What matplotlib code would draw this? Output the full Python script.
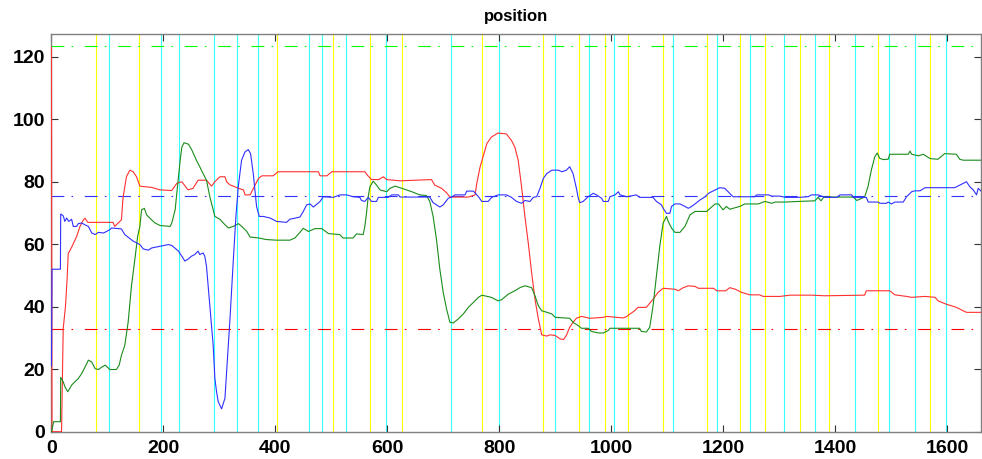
import matplotlib
matplotlib.use("Agg")
import matplotlib.pyplot as plt

# ── data ────────────────────────────────────────────────────────────────────
red_x = [0, 1, 18, 21, 25, 28, 30, 36, 45, 51, 57, 60, 65, 110, 113, 125, 128, 134, 140, 146,
         152, 158, 167, 179, 194, 215, 224, 233, 244, 253, 262, 277, 286, 292, 301, 310, 313,
         319, 325, 334, 343, 346, 355, 361, 370, 376, 396, 405, 477, 480, 492, 501, 560, 566,
         572, 585, 593, 599, 623, 679, 685, 697, 706, 712, 745, 757, 760, 766, 772, 778, 786,
         798, 813, 822, 828, 834, 840, 846, 852, 858, 864, 870, 876, 885, 891, 900, 909, 915,
         920, 926, 932, 938, 947, 962, 986, 992, 1022, 1028, 1034, 1042, 1048, 1063, 1075,
         1084, 1093, 1114, 1120, 1129, 1138, 1150, 1156, 1183, 1189, 1205, 1212, 1222, 1233,
         1248, 1265, 1272, 1302, 1320, 1358, 1382, 1453, 1456, 1498, 1507, 1528, 1537, 1561,
         1579, 1584, 1599, 1608, 1617, 1629, 1635, 1662]
red_y = [123, 0, 0, 33, 40, 49, 57, 59, 62.5, 65.7, 67.8, 68.3, 67, 67, 65.7, 67.8, 75, 81.6,
         83.7, 83.2, 81.6, 78.6, 78.4, 78.2, 77.4, 77.2, 79.5, 80, 77.4, 77.9, 80.5, 80.5, 78.6,
         80, 81.6, 81.6, 80, 79, 78.6, 77.9, 77.4, 75.8, 75.8, 77.9, 81.1, 81.9, 81.9, 83.2,
         83.2, 81.9, 81.9, 83.2, 83.2, 81.8, 80.7, 80.7, 81.6, 80.7, 80.3, 80.7, 78.9, 77.9,
         76.5, 75.1, 75.1, 75.8, 79.5, 84.8, 88.5, 92.2, 94.3, 95.6, 95.3, 93.2, 91.1, 86.9,
         78.4, 68.9, 60.4, 50.9, 42.4, 36.1, 31, 30.6, 31, 30.8, 29.7, 29.5, 30.8, 33.4, 35,
         36.3, 36.9, 36.3, 36.6, 36.9, 36.4, 36.9, 37.7, 38.7, 39.8, 39.8, 42.4, 44.6, 45.9,
         45.6, 45.1, 46.1, 46.7, 46.5, 45.9, 45.9, 45.1, 45.1, 46.1, 45.6, 44.6, 43.8, 43.8,
         43.3, 43.3, 43.7, 43.7, 43.5, 43.7, 45.1, 45.1, 43.8, 43.3, 43.0, 43.3, 43.0, 41.9,
         40.8, 40.3, 39.8, 38.7, 38.2, 38.2]

green_x = [0, 4, 16, 16.5, 21, 24, 29, 33, 36, 42, 48, 54, 60, 66, 72, 78, 84, 90, 96, 104.5,
           116, 121, 125, 131, 137, 143, 149, 154, 158, 161, 166, 170, 179, 185, 194, 212, 215,
           221, 224, 227, 230, 233, 237, 245, 251, 259, 265, 271, 277, 283, 289, 292, 301, 307,
           316, 325, 334, 340, 349, 355, 370, 384, 402, 426, 435, 444, 450, 459, 471, 483, 495,
           515, 521, 539, 545, 557, 560, 563, 566, 569, 575, 581, 587, 599, 605, 614, 626, 644,
           658, 670, 676, 682, 688, 694, 700, 706, 712, 718, 727, 736, 745, 754, 763, 769, 786,
           798, 804, 816, 828, 837, 846, 858, 864, 870, 876, 882, 894, 900, 926, 932, 941, 947,
           959, 965, 977, 986, 995, 998, 1051, 1054, 1063, 1069, 1075, 1081, 1087, 1093, 1099,
           1102, 1108, 1114, 1123, 1132, 1141, 1150, 1171, 1177, 1186, 1192, 1200, 1206, 1212,
           1218, 1230, 1239, 1263, 1275, 1287, 1293, 1311, 1335, 1364, 1370, 1375, 1380, 1433,
           1439, 1453, 1459, 1465, 1471, 1475.5, 1480, 1486, 1495, 1498, 1531, 1534, 1537, 1549,
           1558, 1570, 1584, 1596, 1617, 1623, 1629, 1662]
green_y = [0, 3.2, 3.2, 17.4, 16, 14.4, 12.8, 13.9, 14.9, 16, 17, 18.6, 20.7, 22.9, 22.3, 20.2,
           19.9, 20.7, 21.3, 19.9, 19.9, 21.3, 24.4, 27.6, 35, 46.7, 55.1, 62.5, 65.7, 71, 71.5,
           69.4, 67.8, 66.8, 66, 65.7, 66.8, 71, 76.3, 81.6, 86.9, 91.1, 92.5, 92, 90.1, 86.9,
           84.8, 82.6, 80.5, 75.2, 71, 68.9, 68, 66.8, 65.2, 65.7, 66.6, 65.7, 64.1, 62.3, 62,
           61.5, 61.3, 61.3, 62, 63.8, 65.1, 64.1, 65, 65, 63.4, 63.1, 62, 62, 63.3, 63.1, 65.7,
           70, 75.2, 78.4, 80.2, 78.9, 77.4, 76.8, 77.9, 78.6, 77.9, 76.8, 75.8, 75.6, 73.7,
           68.9, 61.5, 52, 44.6, 39.3, 35, 34.8, 36.1, 37.7, 39.8, 41.4, 43, 43.7, 43, 41.9,
           42.2, 44, 45.1, 46.1, 46.7, 46.1, 43.5, 40.3, 38.7, 38.4, 37.7, 36.6, 36.3, 35, 34,
           33.1, 33.1, 32.1, 31.6, 31.6, 32.4, 33.1, 33.1, 32.1, 31.9, 33.4, 40.3, 49.8, 59.4,
           66.8, 68.9, 67.3, 65.2, 63.8, 63.8, 65.7, 69.4, 70.5, 70.5, 71.5, 72.9, 72.9, 71,
           72.1, 71.2, 71.5, 72.1, 72.9, 72.9, 73.7, 73.1, 73.5, 73.5, 73.7, 73.9, 75.0, 73.9,
           75.1, 75.1, 74, 75.1, 78.4, 83.7, 87.9, 89.2, 87.5, 87.1, 87.2, 88.8, 88.8, 89.8,
           88.8, 88.3, 88.8, 87.4, 87.2, 89, 88.8, 87.2, 86.9, 86.9]

blue_x = [0, 1, 16, 16.5, 21, 24, 27, 31, 36, 39, 45, 48, 54, 60, 66, 72, 78, 84, 93, 98.6,
          104.5, 107.5, 125, 131, 146, 158, 164, 173, 179, 209, 215, 227, 238.5, 244.5, 250.5,
          256, 262, 265, 271, 274, 277, 282, 286, 289, 292, 295, 298, 304, 310, 313, 319, 325,
          329.6, 333.8, 339.7, 345.7, 351.7, 355.8, 360.6, 363.6, 366.5, 371.3, 378.5, 390.4,
          402.3, 420, 426, 444, 450, 456, 462, 468, 480, 485.7, 503.5, 515.5, 527.4, 539.3, 551,
          554, 560, 566, 572, 581, 584, 602, 608, 620, 623, 676, 682, 694, 700, 709, 715, 721,
          739, 742, 754, 763, 769, 780.5, 786.5, 798.4, 813, 822, 831, 840, 846, 855, 861, 867,
          873, 879, 885, 894, 906, 912, 920, 926, 932, 938, 941, 944, 950, 959, 968, 974, 983,
          986, 995, 998, 1007, 1013, 1016, 1028, 1045, 1051, 1075, 1081, 1090, 1093, 1099,
          1105, 1108, 1114, 1123, 1132, 1138, 1144, 1150, 1159, 1168, 1174, 1186, 1194, 1203,
          1212, 1218, 1257, 1260, 1281, 1287, 1302, 1311, 1334, 1352, 1358, 1370, 1382, 1403,
          1409, 1430, 1433, 1456, 1459.5, 1477, 1480, 1492, 1495, 1501, 1507, 1522, 1528, 1537,
          1543, 1552, 1561, 1614, 1623, 1635, 1641, 1647, 1653, 1656, 1662]
blue_y = [21, 52, 52, 69.7, 69.1, 67.3, 68.4, 67.3, 68, 65.7, 65.7, 66.6, 66.8, 66.2, 65.7,
          63.6, 63.1, 63.8, 63.6, 64.1, 64.7, 65.2, 64.9, 63.1, 61, 59.9, 58.5, 58.1, 58.8,
          59.9, 59.6, 57.8, 54.6, 55.3, 56.2, 56.7, 57.8, 56.7, 57.2, 56.2, 53.0, 42.4, 34,
          27.6, 17, 12.8, 9.6, 7.3, 10.7, 19.2, 36.1, 55.1, 68.9, 78.4, 86.9, 89.5, 90.3, 89,
          82.6, 77.4, 72.1, 68.9, 68.9, 68.4, 67.3, 67, 68, 68.7, 70.5, 72.6, 72.9, 71.9, 73.7,
          75.2, 75, 75.8, 75.8, 75.2, 75, 74, 73.7, 75, 73.7, 73.7, 75, 75, 75.8, 75.8, 75.1,
          75.1, 73.3, 71.9, 72.6, 74.7, 75.1, 75.8, 75.8, 77, 77, 75.2, 73.7, 73.7, 75, 75.8,
          75.8, 75, 73.7, 73.1, 74, 73.7, 75, 75.2, 77.9, 81.1, 82.6, 83.7, 83.7, 83.2, 83.7,
          84.8, 82.6, 77.9, 75, 73.3, 73.7, 75.2, 76.3, 75.8, 74.7, 73.7, 73.7, 75.2, 75.8,
          76.8, 75.8, 75.2, 75.8, 75, 75, 73.7, 72.6, 71.5, 69.9, 69.9, 72.1, 72.9, 72.9, 72.1,
          71.5, 72.1, 72.9, 74.2, 75.2, 76.3, 77.4, 78.1, 77.9, 76.3, 75.2, 75.2, 75.8, 75.8,
          75.4, 75.4, 75, 75, 75.2, 75.8, 75.8, 75, 75, 75.8, 75.8, 75, 75, 73.5, 73.5, 73.1,
          73.1, 73.5, 72.9, 73.5, 73.5, 75.2, 76.8, 77.1, 77.1, 78.1, 78.1, 78.9, 80, 78.4,
          77.4, 75.8, 77.9, 76.8]

# reference levels
green_level = 123.3
blue_level = 75.3
red_level = 33.0

# event markers
yellow_marks = [80.0, 156.9, 402.9, 502.4, 569.6, 625.7, 769.2, 878.7, 943.0, 988.9, 1030.6,
                1093.1, 1171.2, 1230.7, 1275.3, 1336.8, 1389.7, 1477.2, 1570.1]
cyan_marks = [103.3, 196.2, 228.4, 290.9, 332.0, 368.4, 459.6, 483.9, 526.7, 597.1, 714.3,
              799.0, 900.1, 959.8, 1005.5, 1111.0, 1188.5, 1248.5, 1308.7, 1364.7, 1436.1,
              1495.8, 1543.4, 1597.6]

x_ticks = [0, 200, 400, 600, 800, 1000, 1200, 1400, 1600]
y_ticks = [0, 20, 40, 60, 80, 100, 120]

# ── figure ──────────────────────────────────────────────────────────────────
plt.rcParams["font.family"] = ["Liberation Sans", "DejaVu Sans"]

fig = plt.figure(figsize=(9.82, 4.59), dpi=100)
fig.patch.set_facecolor("white")
ax = fig.add_axes([0.0524, 0.0595, 0.9466, 0.8658])

for xv in yellow_marks:
    ax.axvline(xv, color="#ffff00", linewidth=0.8, zorder=1)
for xv in cyan_marks:
    ax.axvline(xv, color="#33ffff", linewidth=0.8, zorder=1)

dash = (0, (11.5, 6.5, 1.5, 10.5))
ax.axhline(green_level, color="#00ff00", linewidth=0.8, linestyle=dash, zorder=2)
ax.axhline(blue_level, color="#3333ff", linewidth=0.8, linestyle=dash, zorder=2)
ax.axhline(red_level, color="#ff0000", linewidth=0.8, linestyle=dash, zorder=2)

ax.plot(red_x, red_y, color="#ff3030", linewidth=0.8, zorder=3)
ax.plot(green_x, green_y, color="#1a8c1a", linewidth=0.8, zorder=3)
ax.plot(blue_x, blue_y, color="#3030ff", linewidth=0.8, zorder=3)

ax.set_xlim(0, 1661)
ax.set_ylim(0, 127.2)
ax.set_xticks(x_ticks)
ax.set_yticks(y_ticks)
ax.tick_params(direction="in", length=5, width=0.8, color="#333333",
               top=True, right=True, labelsize=14)
ax.tick_params(axis="x", pad=6)
ax.tick_params(axis="y", pad=4.5)
for lab in ax.get_xticklabels() + ax.get_yticklabels():
    lab.set_fontweight("bold")
for sp in ax.spines.values():
    sp.set_color("#808080")
    sp.set_linewidth(1.0)

ax.set_title("position", fontsize=12, fontweight="bold", pad=9.5)

fig.savefig("out.png", dpi=100, facecolor="white")
